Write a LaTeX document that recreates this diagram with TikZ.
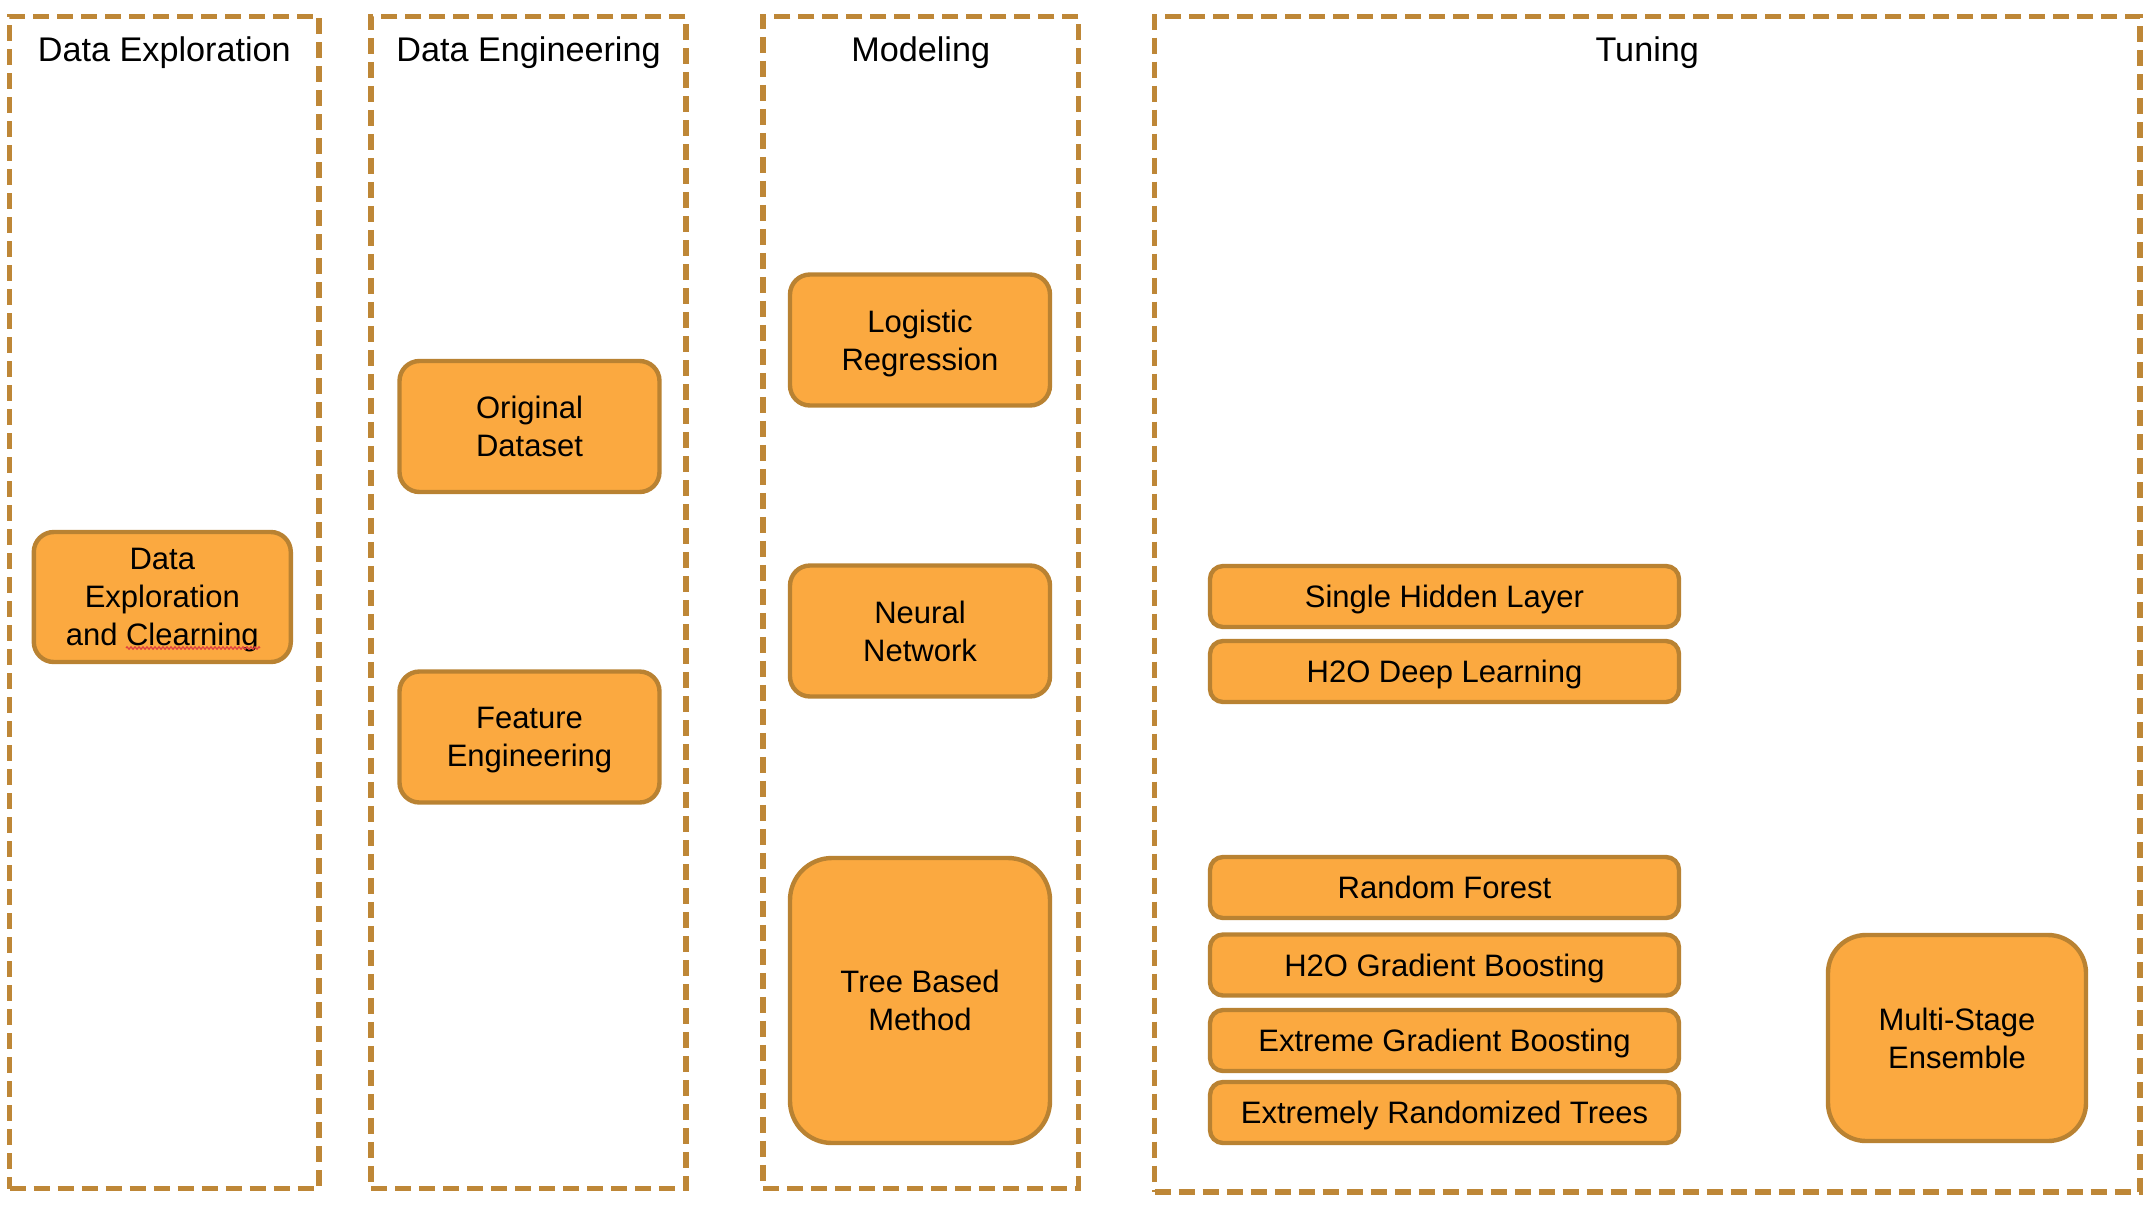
\documentclass[tikz,border=0pt]{standalone}
\usepackage{fontspec}
\setmainfont{Liberation Sans}
\usetikzlibrary{decorations.pathmorphing}
\definecolor{fillcol}{HTML}{FBA940}
\definecolor{edgecol}{HTML}{B98232}
\definecolor{dashcol}{HTML}{BE8737}
\definecolor{spellred}{HTML}{E04040}
\tikzset{
  colbox/.style={draw=dashcol, line width=2.7pt, dash pattern=on 8pt off 4pt, inner sep=0pt, outer sep=0pt},
  coltitle/.style={font=\fontsize{17.1}{20}\selectfont, inner sep=0pt, anchor=base},
  procbox/.style={draw=edgecol, fill=fillcol, line width=2.2pt, align=center, inner sep=0pt,
    text depth=0pt, font=\fontsize{15.5}{19}\selectfont},
  bigbox/.style={procbox, minimum width=130pt, minimum height=65.5pt, rounded corners=10pt},
  thinbox/.style={procbox, minimum width=234.5pt, minimum height=30.5pt, rounded corners=6.5pt},
}
\begin{document}
\begin{tikzpicture}[x=0.5pt,y=-0.5pt]
\useasboundingbox (0,0) rectangle (2153,1211);

% columns
\node[colbox, minimum width=154.65pt, minimum height=586.2pt] (colexp) at (164.35,602.5) {};
\node[colbox, minimum width=157.5pt, minimum height=586.2pt] (coleng) at (528.5,602.5) {};
\node[colbox, minimum width=157.75pt, minimum height=586.2pt] (colmod) at (920.75,602.5) {};
\node[colbox, minimum width=492.75pt, minimum height=587.85pt] (coltun) at (1647.25,604.15) {};

% titles
\node[coltitle] (texp) at (164.35,61) {Data Exploration};
\node[coltitle] (teng) at (528.5,61) {Data Engineering};
\node[coltitle] (tmod) at (920.75,61) {Modeling};
\node[coltitle] (ttun) at (1647.25,61) {Tuning};

% data exploration
\node[bigbox, minimum width=128.5pt, minimum height=65pt] (dec) at (162.3,597) {Data\\Exploration\\and Clearning};
\draw[spellred, line width=0.6pt, decorate, decoration={zigzag, amplitude=0.6pt, segment length=2pt}]
  (126,648) coordinate (ulstart) -- (260,648) coordinate (ulend);

% data engineering
\node[bigbox] (orig) at (529.5,426.5) {Original\\Dataset};
\node[bigbox] (feat) at (529.5,737) {Feature\\Engineering};

% modeling
\node[bigbox] (logit) at (920,340) {Logistic\\Regression};
\node[bigbox] (nn) at (920,631) {Neural\\Network};
\node[bigbox, minimum height=142.5pt, rounded corners=21pt] (tree) at (920,1000.5) {Tree Based\\Method};

% tuning
\node[thinbox] (shl) at (1444.5,596.5) {Single Hidden Layer};
\node[thinbox] (hdl) at (1444.5,671.5) {H2O Deep Learning};
\node[thinbox] (rf) at (1444.5,887.5) {Random Forest};
\node[thinbox] (hgb) at (1444.5,965) {H2O Gradient Boosting};
\node[thinbox] (xgb) at (1444.5,1040.5) {Extreme Gradient Boosting};
\node[thinbox] (ert) at (1444.5,1112.5) {Extremely Randomized Trees};
\node[bigbox, minimum width=129pt, minimum height=103pt, rounded corners=19pt] (mse) at (1957,1038) {Multi-Stage\\Ensemble};
\end{tikzpicture}
\end{document}
